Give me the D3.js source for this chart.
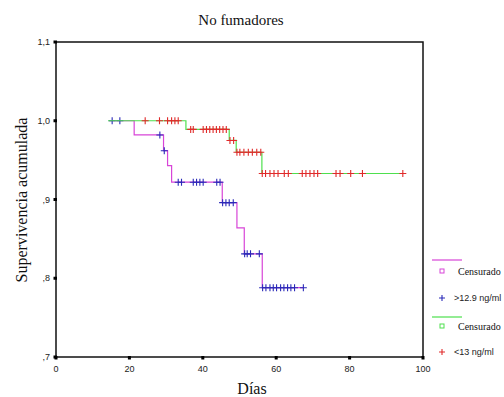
<!DOCTYPE html>
<html lang="es">
<head>
<meta charset="UTF-8">
<title>No fumadores</title>
<script src="https://cdnjs.cloudflare.com/ajax/libs/d3/7.8.5/d3.min.js"></script>
<style>
  body { margin: 0; background: #fff; }
  svg { display: block; }
  .serif { font-family: "Liberation Serif", "DejaVu Serif", serif; fill: #111; }
  .tick-lbl { font-family: "Liberation Sans", Arial, sans-serif; font-size: 9px; fill: #222; }
</style>
</head>
<body>
<svg id="chart" width="504" height="397"></svg>
<script>
// >12.9 ng/ml group (magenta curve, blue censor marks)
const highStart = 14.5;
const highEventDays = [21.3, 29.3, 30.4, 31.5, 45.3, 49.3, 51.3, 56.2];
const highEventSurv = [0.982, 0.962, 0.943, 0.922, 0.896, 0.864, 0.831, 0.788];
const highCensored = [15.3, 17.4, 28.3, 29.5, 33.3, 34.2, 37.4, 38.3, 39.2, 40.1, 43.8, 44.7,
  45.4, 46.3, 47.2, 48.3, 51.4, 52.1, 53.0, 55.4,
  56.3, 57.2, 58.3, 59.2, 60.1, 61.2, 62.1, 63.1, 64.0, 65.0, 67.4];

// <13 ng/ml group (green curve, red censor marks)
const lowStart = 14.2;
const lowEventDays = [35.4, 47.2, 49.1, 56.1];
const lowEventSurv = [0.989, 0.975, 0.960, 0.933];
const lowCensored = [24.3, 28.2, 30.4, 31.5, 32.4, 33.3,
  36.7, 37.4, 40.1, 41.0, 41.9, 42.8, 43.7, 44.6, 45.5, 46.4,
  47.4, 48.4,
  49.3, 50.1, 51.2, 52.4, 53.5, 54.7, 55.8,
  56.2, 57.1, 58.3, 59.4, 60.5, 62.2, 63.3, 67.1, 68.1, 69.2, 70.3, 71.3,
  76.3, 77.4, 80.3, 83.5, 94.5];

const xTicks = [0, 20, 40, 60, 80, 100];
const yTicks = [0.7, 0.8, 0.9, 1.0, 1.1];
const yTickLabels = [",7", ",8", ",9", "1,0", "1,1"];

const magenta = "#d845d8", green = "#4ee04e", blue = "#2a2ab8", red = "#e02a2a";

const svg = d3.select("#chart");
const x = d3.scaleLinear().domain([0, 100]).range([56, 423]);
const y = d3.scaleLinear().domain([0.7, 1.1]).range([357, 42]);

// survival level at a given time for a step curve
function survAt(days, surv, t) {
  let s = 1;
  days.forEach((d, i) => { if (d <= t) s = surv[i]; });
  return s;
}

function stepPoints(start, days, surv, censored) {
  const last = d3.max(censored.concat(days));
  const pts = [[start, 1]];
  days.forEach((d, i) => pts.push([d, surv[i]]));
  pts.push([last, survAt(days, surv, last)]);
  return pts;
}

// frame
svg.append("rect")
  .attr("x", x(0)).attr("y", y(1.1))
  .attr("width", x(100) - x(0)).attr("height", y(0.7) - y(1.1))
  .attr("fill", "none").attr("stroke", "#111").attr("stroke-width", 1.5);

// ticks: small squares SPSS style
svg.selectAll(".xt").data(xTicks).enter().append("rect")
  .attr("x", d => x(d) - 1.5).attr("y", y(0.7) - 1)
  .attr("width", 3).attr("height", 3.5).attr("fill", "#000");
svg.selectAll(".xl").data(xTicks).enter().append("text")
  .attr("class", "tick-lbl")
  .attr("x", d => x(d)).attr("y", 372)
  .attr("text-anchor", "middle").text(d => d);

svg.selectAll(".yt").data(yTicks).enter().append("rect")
  .attr("x", x(0) - 2.5).attr("y", d => y(d) - 1.5)
  .attr("width", 3.5).attr("height", 3).attr("fill", "#000");
svg.selectAll(".yl").data(yTicks).enter().append("text")
  .attr("class", "tick-lbl")
  .attr("x", 50).attr("y", d => y(d) + 3)
  .attr("text-anchor", "end").text((d, i) => yTickLabels[i]);

const line = d3.line().x(d => x(d[0])).y(d => y(d[1])).curve(d3.curveStepAfter);

function plusPath(cx, cy, r) {
  return `M${cx - r},${cy}H${cx + r}M${cx},${cy - r}V${cy + r}`;
}

function drawGroup(start, days, surv, censored, lineColor, markColor) {
  svg.append("path")
    .datum(stepPoints(start, days, surv, censored))
    .attr("d", line)
    .attr("fill", "none").attr("stroke", lineColor).attr("stroke-width", 1.2);
  svg.append("g").selectAll("path").data(censored).enter().append("path")
    .attr("d", t => plusPath(x(t), y(survAt(days, surv, t)), 3.5))
    .attr("stroke", markColor).attr("stroke-width", 1.1).attr("fill", "none");
}

drawGroup(highStart, highEventDays, highEventSurv, highCensored, magenta, blue);
drawGroup(lowStart, lowEventDays, lowEventSurv, lowCensored, green, red);

// titles
svg.append("text").attr("class", "serif")
  .attr("x", 241).attr("y", 25).attr("text-anchor", "middle")
  .attr("font-size", 15).text("No fumadores");
svg.append("text").attr("class", "serif")
  .attr("x", 252).attr("y", 394).attr("text-anchor", "middle")
  .attr("font-size", 16).text("Días");
svg.append("text").attr("class", "serif")
  .attr("transform", "translate(27,200) rotate(-90)").attr("text-anchor", "middle")
  .attr("font-size", 16).text("Supervivencia acumulada");

// legend
const lg = svg.append("g");
function legendLine(yy, color) {
  lg.append("line").attr("x1", 432).attr("x2", 462).attr("y1", yy).attr("y2", yy)
    .attr("stroke", color).attr("stroke-width", 1.2);
}
function legendSquare(yy, color, label) {
  lg.append("rect").attr("x", 440).attr("y", yy - 2).attr("width", 4).attr("height", 4)
    .attr("fill", "none").attr("stroke", color).attr("stroke-width", 1);
  lg.append("text").attr("class", "serif").attr("x", 458).attr("y", yy + 3.5)
    .attr("font-size", 10).text(label);
}
function legendPlus(yy, color, label) {
  lg.append("path").attr("d", plusPath(442, yy, 3)).attr("stroke", color).attr("stroke-width", 1.1);
  lg.append("text").attr("class", "tick-lbl").attr("x", 454).attr("y", yy + 3)
    .attr("font-size", 8.5).text(label);
}
legendLine(260, magenta);
legendSquare(271, magenta, "Censurado");
legendPlus(298, blue, ">12.9 ng/ml");
legendLine(317, green);
legendSquare(326, green, "Censurado");
legendPlus(352, red, "<13 ng/ml");
</script>
</body>
</html>
